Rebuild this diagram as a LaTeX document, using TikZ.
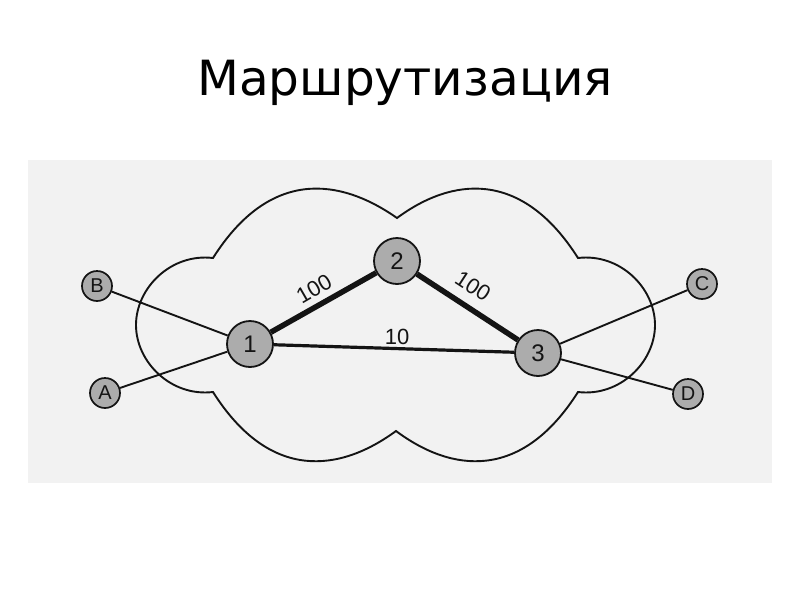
\documentclass[tikz,border=0pt]{standalone}
\usepackage{fontspec}
\usetikzlibrary{backgrounds}
\setmainfont{Liberation Sans}
\newfontfamily\titlefont{DejaVu Sans}
\definecolor{nodegray}{RGB}{172,172,172}
\definecolor{scangray}{RGB}{242,242,242}
\definecolor{ink}{RGB}{20,20,20}
\begin{document}
\begin{tikzpicture}[x=1pt,y=-1pt,
  router/.style={circle,draw=ink,line width=1.8pt,fill=nodegray,inner sep=0pt,minimum size=46pt,text=ink,font=\fontsize{24}{24}\selectfont},
  host/.style={circle,draw=ink,line width=1.7pt,fill=nodegray,inner sep=0pt,minimum size=30pt,text=ink,font=\fontsize{20}{20}\selectfont},
  hostlink/.style={draw=ink,line width=1.9pt},
  heavylink/.style={draw=ink,line width=5.5pt},
  midlink/.style={draw=ink,line width=3.2pt},
  cloudline/.style={draw=ink,line width=1.9pt,line join=miter},
  weight/.style={text=ink,font=\fontsize{22}{22}\selectfont,inner sep=0pt}]
\useasboundingbox (0,0) rectangle (800,600);
\node[anchor=base,font=\titlefont\fontsize{48.5}{48.5}\selectfont] (title) at (405,95) {Маршрутизация};
% nodes
\node[router] (n1) at (250,344) {1};
\node[router] (n2) at (397,261) {2};
\node[router] (n3) at (538,353) {3};
\node[host] (A) at (105,393) {A};
\node[host] (B) at (97,286) {B};
\node[host] (C) at (702,284) {C};
\node[host] (D) at (688,394) {D};
% weights
\node[weight,rotate=30] (w12) at (314,289) {100};
\node[weight,rotate=-33] (w23) at (473,286) {100};
\node[weight] (w13) at (397,337) {10};
\begin{scope}[on background layer]
\fill[white] (0,0) rectangle (800,600);
\fill[scangray] (28,160) rectangle (772,483);
\draw[cloudline]
  (213,258) .. controls (270,168) and (340,178) .. (397,218)
  .. controls (451,178) and (521,168) .. (578,258)
  .. controls (620,253) and (655,288) .. (655,325)
  .. controls (655,362) and (620,397) .. (578,392)
  .. controls (521,482) and (451,472) .. (396,431)
  .. controls (340,472) and (270,482) .. (213,392)
  .. controls (171,397) and (136,362) .. (136,325)
  .. controls (136,288) and (171,253) .. (213,258) -- cycle;
\draw[hostlink] (B) -- (n1);
\draw[hostlink] (A) -- (n1);
\draw[hostlink] (C) -- (n3);
\draw[hostlink] (D) -- (n3);
\draw[heavylink] (n1) -- (n2);
\draw[heavylink] (n2) -- (n3);
\draw[midlink] (n1) -- (n3);
\end{scope}
\end{tikzpicture}
\end{document}
